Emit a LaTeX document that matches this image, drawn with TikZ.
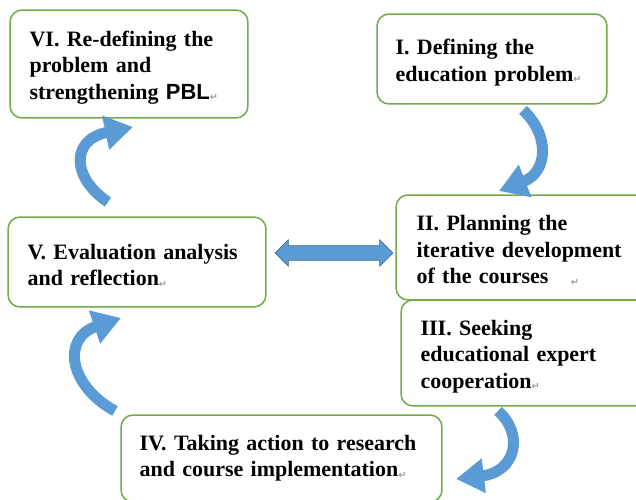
\documentclass[tikz,border=0pt]{standalone}
\usepackage{fontspec}
\setmainfont{Liberation Serif}
\newfontfamily\pblfont{Liberation Sans}
\newfontfamily\markfont{DejaVu Sans}
\usetikzlibrary{arrows.meta,shapes.arrows}
\definecolor{boxgreen}{HTML}{70AD47}
\definecolor{arrowblue}{HTML}{5B9BD5}
\definecolor{arrowedge}{HTML}{41719C}
\newcommand{\pmark}{{\markfont\fontsize{5.5}{6}\selectfont\color{black!40}\raisebox{-1pt}{↵}}}
\tikzset{
  box/.style={draw=boxgreen, line width=0.85pt, rounded corners=0.24cm, fill=white,
    inner sep=0pt},
  txt/.style={anchor=west, inner sep=0pt, align=left,
    font=\fontsize{12.5}{15}\selectfont\bfseries},
  curv/.style={draw=arrowblue, line width=0.22cm,
    -{Triangle[length=0.56cm, width=0.66cm]}},
  dbl/.style={double arrow, draw=arrowedge, fill=arrowblue, line width=0.4pt,
    inner xsep=0pt, inner ysep=0.14cm, minimum width=0.52cm,
    double arrow head extend=0.12cm, minimum height=2.36cm}
}
\begin{document}
\begin{tikzpicture}[x=0.02cm,y=-0.02cm]
\useasboundingbox (0,0) rectangle (636,500);
\clip (0,0) rectangle (636,500);
\fill[white] (0,0) rectangle (636,500);

\node[box, minimum width=4.76cm, minimum height=2.16cm] (six) at (129,64) {};
\node[txt, text width=4cm] (six-t) at ([xshift=0.4cm,yshift=-0.07cm]six.west)
  {VI. Re-defining the\\problem and\\strengthening {\pblfont PBL}\pmark};

\node[box, minimum width=4.6cm, minimum height=1.8cm] (one) at (492,59) {};
\node[txt, text width=3.9cm] (one-t) at ([xshift=0.38cm,yshift=-0.07cm]one.west)
  {I. Defining the\\education problem\pmark};

\node[box, minimum width=5.08cm, minimum height=2.1cm] (two) at (523,247.5) {};
\node[txt, text width=4.5cm] (two-t) at ([xshift=0.42cm,yshift=-0.06cm]two.west)
  {II. Planning the\\iterative development\\of the courses\hspace{0.45cm}\pmark};

\node[box, minimum width=4.98cm, minimum height=2.12cm] (three) at (525.5,353) {};
\node[txt, text width=4.4cm] (three-t) at ([xshift=0.4cm,yshift=-0.07cm]three.west)
  {III. Seeking\\educational expert\\cooperation\pmark};

\node[box, minimum width=6.42cm, minimum height=1.74cm] (four) at (281.5,458.5) {};
\node[txt, text width=5.9cm] (four-t) at ([xshift=0.38cm]four.west)
  {IV. Taking action to research\\and course implementation\pmark};

\node[box, minimum width=5.16cm, minimum height=1.8cm] (five) at (137,262) {};
\node[txt, text width=4.6cm] (five-t) at ([xshift=0.4cm,yshift=-0.07cm]five.west)
  {V. Evaluation analysis\\and reflection\pmark};

\node[dbl] (link) at (334,253) {};

\coordinate (a1s) at (523,110);
\coordinate (a1e) at (499,191);
\draw[curv] (a1s) .. controls (550,135) and (548,172) .. (a1e);

\coordinate (a2s) at (498,411);
\coordinate (a2e) at (456,479);
\draw[curv] (a2s) .. controls (525,435) and (515,472) .. (a2e);

\coordinate (a3s) at (115,411);
\coordinate (a3e) at (121,318);
\draw[curv] (a3s) .. controls (68,385) and (62,338) .. (a3e);

\coordinate (a4s) at (108,202);
\coordinate (a4e) at (133,127);
\draw[curv] (a4s) .. controls (72,178) and (70,140) .. (a4e);
\end{tikzpicture}
\end{document}
